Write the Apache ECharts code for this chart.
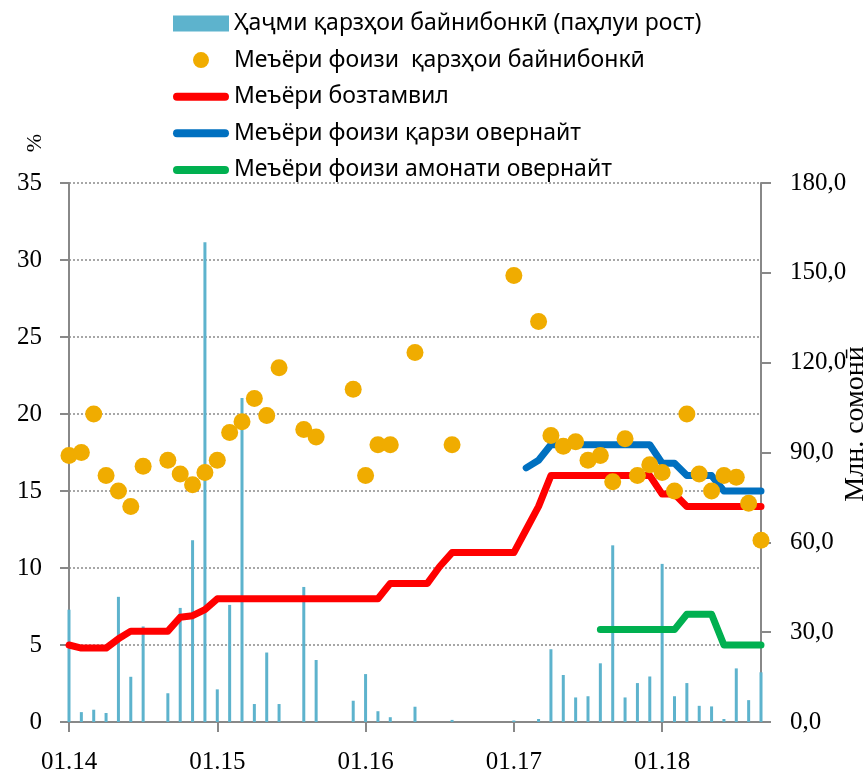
<!DOCTYPE html>
<html>
<head>
<meta charset="utf-8">
<script src="https://cdn.jsdelivr.net/npm/echarts@6/dist/echarts.min.js"></script>
<style>
html,body{margin:0;padding:0;background:#fff;}
#chart{width:868px;height:775px;}
</style>
</head>
<body>
<div id="chart"></div>
<script>
// ---- Data ----
var categories = [
 "01.14","02.14","03.14","04.14","05.14","06.14","07.14","08.14","09.14","10.14","11.14","12.14",
 "01.15","02.15","03.15","04.15","05.15","06.15","07.15","08.15","09.15","10.15","11.15","12.15",
 "01.16","02.16","03.16","04.16","05.16","06.16","07.16","08.16","09.16","10.16","11.16","12.16",
 "01.17","02.17","03.17","04.17","05.17","06.17","07.17","08.17","09.17","10.17","11.17","12.17",
 "01.18","02.18","03.18","04.18","05.18","06.18","07.18","08.18","09.18"
];
var seriesNames = [
 "Ҳаҷми қарзҳои байнибонкӣ (паҳлуи рост)",
 "Меъёри фоизи  қарзҳои байнибонкӣ",
 "Меъёри бозтамвил",
 "Меъёри фоизи қарзи овернайт",
 "Меъёри фоизи амонати овернайт"
];
// Interbank loan volume (right axis, mln somoni)
var loanVolume = [
 37.5, 3.3, 4.1, 3.0, 41.8, 15.1, 31.9, 0, 9.6, 38.1, 60.7, 160.2,
 10.9, 39.1, 108.2, 6.0, 23.2, 6.0, 0, 45.1, 20.7, 0, 0, 7.1,
 16.0, 3.6, 1.6, 0, 5.1, 0, 0, 0.7, 0, 0, 0, 0,
 0.5, 0, 1.0, 24.3, 15.7, 8.2, 8.6, 19.6, 59.0, 8.2, 13.0, 15.2,
 52.8, 8.6, 13.0, 5.4, 5.2, 1.0, 17.9, 7.3, 16.6
];
// Interbank loan interest rate (%)
var loanRate = [
 17.3, 17.5, 20.0, 16.0, 15.0, 14.0, 16.6, null, 17.0, 16.1, 15.4, 16.2,
 17.0, 18.8, 19.5, 21.0, 19.9, 23.0, null, 19.0, 18.5, null, null, 21.6,
 16.0, 18.0, 18.0, null, 24.0, null, null, 18.0, null, null, null, null,
 29.0, null, 26.0, 18.6, 17.9, 18.2, 17.0, 17.3, 15.6, 18.4, 16.0, 16.7,
 16.2, 15.0, 20.0, 16.1, 15.0, 16.0, 15.9, 14.2, 11.8
];
// Refinancing rate (%)
var refiRate = [
 5.0, 4.8, 4.8, 4.8, 5.4, 5.9, 5.9, 5.9, 5.9, 6.8, 6.9, 7.3,
 8.0, 8.0, 8.0, 8.0, 8.0, 8.0, 8.0, 8.0, 8.0, 8.0, 8.0, 8.0,
 8.0, 8.0, 9.0, 9.0, 9.0, 9.0, 10.1, 11.0, 11.0, 11.0, 11.0, 11.0,
 11.0, 12.5, 14.0, 16.0, 16.0, 16.0, 16.0, 16.0, 16.0, 16.0, 16.0, 16.0,
 14.8, 14.8, 14.0, 14.0, 14.0, 14.0, 14.0, 14.0, 14.0
];
// Overnight loan rate (%)
var overnightLoan = [
 null, null, null, null, null, null, null, null, null, null, null, null,
 null, null, null, null, null, null, null, null, null, null, null, null,
 null, null, null, null, null, null, null, null, null, null, null, null,
 null, 16.5, 17.0, 18.0, 18.0, 18.0, 18.0, 18.0, 18.0, 18.0, 18.0, 18.0,
 16.8, 16.8, 16.0, 16.0, 16.0, 15.0, 15.0, 15.0, 15.0
];
// Overnight deposit rate (%)
var overnightDeposit = [
 null, null, null, null, null, null, null, null, null, null, null, null,
 null, null, null, null, null, null, null, null, null, null, null, null,
 null, null, null, null, null, null, null, null, null, null, null, null,
 null, null, null, null, null, null, null, 6.0, 6.0, 6.0, 6.0, 6.0,
 6.0, 6.0, 7.0, 7.0, 7.0, 5.0, 5.0, 5.0, 5.0
];

// ---- Chart ----
var AXIS = '#888888';
var SERIF = '"Liberation Serif", "DejaVu Serif", serif';
var SANS = '"Noto Sans", "Open Sans", sans-serif';
var LINE_ICON = 'path://M4,0L52,0A4,4,0,0,1,52,8L4,8A4,4,0,0,1,4,0Z';
var chart = echarts.init(document.getElementById('chart'), null, {renderer: 'canvas'});
function toNull(a){ return a.map(function(v){ return v === null ? '-' : v; }); }

chart.setOption({
  animation: false,
  backgroundColor: '#ffffff',
  grid: {left: 69, right: 107, top: 183, bottom: 52, containLabel: false},
  legend: {
    orient: 'vertical',
    left: 173, top: 12, padding: 0,
    itemWidth: 56, itemHeight: 16, itemGap: 13.6,
    textStyle: {fontFamily: SANS, fontSize: 23, color: '#000', lineHeight: 22},
    data: [
      {name: seriesNames[0], icon: 'rect'},
      {name: seriesNames[1], icon: 'circle'},
      {name: seriesNames[2], icon: LINE_ICON},
      {name: seriesNames[3], icon: LINE_ICON},
      {name: seriesNames[4], icon: LINE_ICON}
    ]
  },
  xAxis: {
    type: 'category',
    data: categories,
    boundaryGap: false,
    axisLine: {lineStyle: {color: AXIS, width: 2}},
    axisTick: {show: true, interval: 11, length: 10, lineStyle: {color: AXIS, width: 2}},
    axisLabel: {interval: 11, margin: 28, fontFamily: SERIF, fontSize: 25, color: '#000'},
    splitLine: {show: false}
  },
  yAxis: [{
    type: 'value', min: 0, max: 35, interval: 5, position: 'left',
    axisLine: {show: true, lineStyle: {color: AXIS, width: 2}},
    axisTick: {show: true, length: 9, lineStyle: {color: AXIS, width: 2}},
    axisLabel: {margin: 27, fontFamily: SERIF, fontSize: 25, color: '#000'},
    splitLine: {show: true, lineStyle: {color: '#8a8a8a', width: 1.5, type: [2, 2]}}
  }, {
    type: 'value', min: 0, max: 180, interval: 30, position: 'right',
    axisLine: {show: true, lineStyle: {color: AXIS, width: 2}},
    axisTick: {show: true, length: 10, lineStyle: {color: AXIS, width: 2}},
    axisLabel: {margin: 29, fontFamily: SERIF, fontSize: 25, color: '#000',
      formatter: function(v){ return v.toFixed(1).replace('.', ','); }},
    splitLine: {show: false}
  }],
  graphic: [
    {type: 'text', x: 856, y: 424, rotation: Math.PI / 2,
     style: {text: 'Млн. сомонӣ', font: '28px ' + SERIF, fill: '#000', align: 'center', verticalAlign: 'middle'}},
    {type: 'text', x: 35, y: 143, rotation: Math.PI / 2,
     style: {text: '%', font: '22px ' + SERIF, fill: '#000', align: 'center', verticalAlign: 'middle'}}
  ],
  series: [
    {name: seriesNames[0], type: 'bar', yAxisIndex: 1, data: loanVolume,
     barWidth: 3, itemStyle: {color: '#5DB3CD'}, z: 2},
    {name: seriesNames[2], type: 'line', yAxisIndex: 0, data: toNull(refiRate),
     symbol: 'none', lineStyle: {color: '#FF0000', width: 7, cap: 'round', join: 'round'},
     itemStyle: {color: '#FF0000'}, z: 3},
    {name: seriesNames[3], type: 'line', yAxisIndex: 0, data: toNull(overnightLoan),
     symbol: 'none', lineStyle: {color: '#0070C0', width: 7, cap: 'round', join: 'round'},
     itemStyle: {color: '#0070C0'}, z: 3},
    {name: seriesNames[4], type: 'line', yAxisIndex: 0, data: toNull(overnightDeposit),
     symbol: 'none', lineStyle: {color: '#00B050', width: 7, cap: 'round', join: 'round'},
     itemStyle: {color: '#00B050'}, z: 3},
    {name: seriesNames[1], type: 'scatter', yAxisIndex: 0, data: toNull(loanRate),
     symbol: 'circle', symbolSize: 17, itemStyle: {color: '#F0AC00', opacity: 1}, z: 4}
  ]
});
</script>
</body>
</html>
